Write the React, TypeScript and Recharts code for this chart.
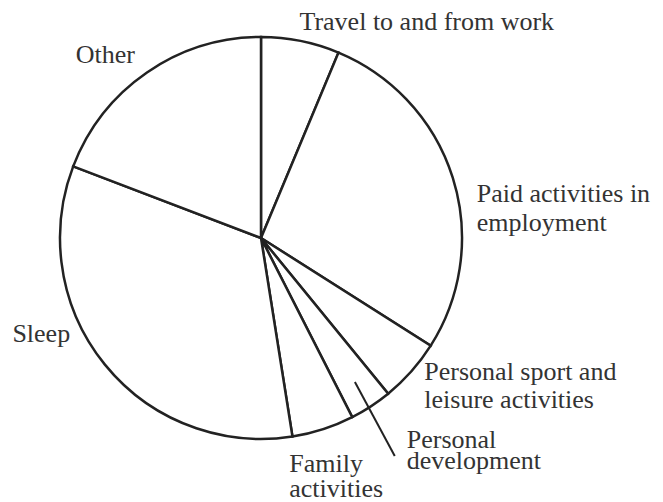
import React from 'react';
import { PieChart, Pie, Cell } from 'recharts';

// share of the day, percent
const categories = [
  'Travel to and from work',
  'Paid activities in employment',
  'Personal sport and leisure activities',
  'Personal development',
  'Family activities',
  'Sleep',
  'Other',
];
const shares = [6.3, 27.7, 5.1, 3.4, 5.0, 33.3, 19.2];
const labelLines = [
  ['Travel to and from work'],
  ['Paid activities in', 'employment'],
  ['Personal sport and', 'leisure activities'],
  ['Personal', 'development'],
  ['Family', 'activities'],
  ['Sleep'],
  ['Other'],
];

const data = categories.map((name, i) => ({ name, value: shares[i] }));

// label nudges relative to a point just outside the rim
const labelLayout = [
  { dx: -5, dy: 9, lh: 28 },
  { dx: 5, dy: 30, lh: 29 },
  { dx: -2, dy: -5, lh: 28 },
  { dx: 25, dy: 25, lh: 21, leader: true },
  { dx: -40, dy: 24, lh: 25 },
  { dx: -77, dy: -35, lh: 28 },
  { dx: -60, dy: 7, lh: 28 },
];

const RAD = Math.PI / 180;
const FONT = '"Liberation Serif", "DejaVu Serif", serif';

function renderLabel(props: any) {
  const { cx, cy, midAngle, outerRadius, index } = props;
  const layout = labelLayout[index];
  const r = outerRadius + 20;
  const x = cx + r * Math.cos(-midAngle * RAD) + layout.dx;
  const y = cy + r * Math.sin(-midAngle * RAD) + layout.dy;
  const lines = labelLines[index];

  let leader = null;
  if (layout.leader) {
    const r0 = outerRadius * 0.855;
    const x0 = cx + r0 * Math.cos(-midAngle * RAD);
    const y0 = cy + r0 * Math.sin(-midAngle * RAD);
    leader = <line x1={x0} y1={y0} x2={x - 12} y2={y + 8} stroke="#222" strokeWidth={2} />;
  }

  return (
    <g key={`label-${index}`}>
      {leader}
      <text
        x={x}
        y={y}
        textAnchor="start"
        fill="#333"
        style={{ fontFamily: FONT, fontSize: 26 }}
      >
        {lines.map((line, i) => (
          <tspan key={i} x={x} dy={i === 0 ? 0 : layout.lh}>
            {line}
          </tspan>
        ))}
      </text>
    </g>
  );
}

export default function App() {
  return (
    <div style={{ position: 'absolute', left: 0, top: 0, width: 663, height: 502, background: '#fff', fontFamily: FONT }}>
      <PieChart width={663} height={502} margin={{ top: 0, right: 0, bottom: 0, left: 0 }}>
        <Pie
          data={data}
          dataKey="value"
          nameKey="name"
          cx={261}
          cy={238}
          outerRadius={201}
          startAngle={90}
          endAngle={-270}
          stroke="#222"
          strokeWidth={2.5}
          label={renderLabel}
          labelLine={false}
          isAnimationActive={false}
        >
          {data.map((d) => (
            <Cell key={d.name} fill="#fff" />
          ))}
        </Pie>
      </PieChart>
    </div>
  );
}
